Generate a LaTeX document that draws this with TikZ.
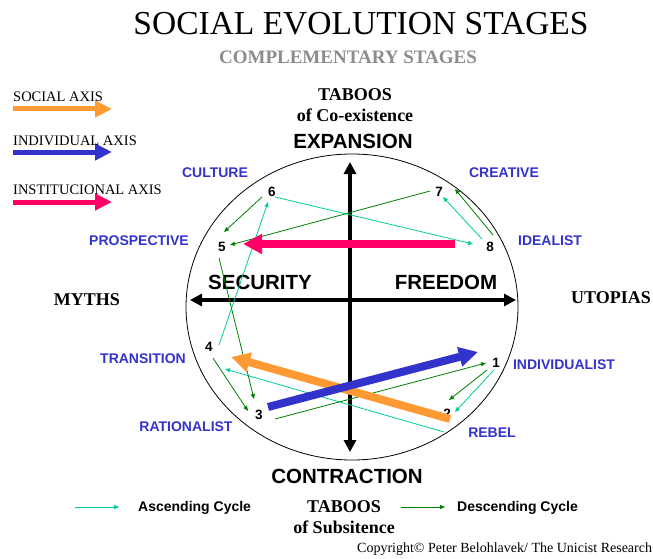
\documentclass[tikz,border=0pt]{standalone}
\usepackage{fontspec}
\setmainfont{Liberation Serif}
\setsansfont{Liberation Sans}
\usetikzlibrary{arrows.meta}

\definecolor{stageblue}{RGB}{51,51,204}
\definecolor{ascend}{RGB}{0,204,153}
\definecolor{descend}{RGB}{0,128,0}
\definecolor{socialorange}{RGB}{255,153,51}
\definecolor{instpink}{RGB}{255,0,102}

\begin{document}
\begin{tikzpicture}[x=1pt,y=-1pt,
  stage/.style={font=\sffamily\bfseries\fontsize{14}{16}\selectfont,text=stageblue,inner sep=0},
  num/.style={font=\sffamily\bfseries\fontsize{13.5}{15}\selectfont,inner sep=0},
  big/.style={font=\sffamily\bfseries\fontsize{20.5}{22}\selectfont,inner sep=0},
  taboo/.style={font=\bfseries\fontsize{18}{21}\selectfont,inner sep=0,align=center},
  legendtext/.style={font=\fontsize{14.5}{16}\selectfont,inner sep=0,anchor=base west},
  asc/.style={ascend,line width=0.8pt,-{Triangle[length=5pt,width=4pt]}},
  desc/.style={descend,line width=0.8pt,-{Triangle[length=5pt,width=4pt]}},
  axisarrow/.style={line width=8pt,-{Triangle[length=19pt,width=19pt]}},
  legendarrow/.style={line width=5pt,-{Triangle[length=17pt,width=16pt]}},
  mainaxis/.style={line width=3.5pt,{Triangle[length=12pt,width=12pt]}-{Triangle[length=12pt,width=12pt]}}
]
\useasboundingbox (0,0) rectangle (653,559);

% Titles
\node[font=\fontsize{33.5}{35}\selectfont,inner sep=0] (title) at (361,24) {SOCIAL EVOLUTION STAGES};
\node[font=\bfseries\fontsize{19}{21}\selectfont,text=black!45,inner sep=0] (subtitle) at (348,57) {COMPLEMENTARY STAGES};

% Legend of the axes
\draw[legendarrow,socialorange] (13,109) -- (112,109);
\draw[legendarrow,stageblue] (13,152) -- (112,152);
\draw[legendarrow,instpink] (13,202) -- (112,202);
\node[legendtext] (lsocial) at (13,102) {SOCIAL AXIS};
\node[legendtext] (lindiv) at (13,146) {INDIVIDUAL AXIS};
\node[legendtext] (linst) at (13,194) {INSTITUCIONAL AXIS};

% Circle and main axes
\draw[line width=0.8pt] (352,307) ellipse (166 and 153);
\coordinate (top) at (350,162);
\coordinate (bottom) at (350,452);
\coordinate (left) at (190,300);
\coordinate (right) at (516,300);
\draw[mainaxis] (top) -- (bottom);
\draw[mainaxis] (left) -- (right);

% Outer labels
\node[taboo] (tabtop) at (355,105) {TABOOS\\of Co-existence};
\node[taboo] (tabbot) at (344,517) {TABOOS\\of Subsitence};
\node[big] (expansion) at (353,141) {EXPANSION};
\node[big] (contraction) at (347,476) {CONTRACTION};
\node[big] (security) at (260,282) {SECURITY};
\node[big] (freedom) at (446,282) {FREEDOM};
\node[font=\bfseries\fontsize{18}{20}\selectfont,inner sep=0] (myths) at (87,300) {MYTHS};
\node[font=\bfseries\fontsize{18}{20}\selectfont,inner sep=0] (utopias) at (611,298) {UTOPIAS};

% Stage names
\node[stage] (culture) at (215,173) {CULTURE};
\node[stage] (creative) at (504,173) {CREATIVE};
\node[stage] (prospective) at (139,241) {PROSPECTIVE};
\node[stage] (idealist) at (550,241) {IDEALIST};
\node[stage] (transition) at (143,359) {TRANSITION};
\node[stage] (individualist) at (564,365) {INDIVIDUALIST};
\node[stage] (rationalist) at (186,427) {RATIONALIST};
\node[stage] (rebel) at (492,433) {REBEL};

% Stage numbers
\node[num] (s1) at (496,363) {1};
\node[num] (s2) at (447,414) {2};
\node[num] (s3) at (259,415) {3};
\node[num] (s4) at (209,347) {4};
\node[num] (s5) at (222,247) {5};
\node[num] (s6) at (272,192) {6};
\node[num] (s7) at (439,192) {7};
\node[num] (s8) at (490,247) {8};

% Ascending cycle
\draw[asc] ([shift={(-2,7)}]s1.center) -- ([shift={(8,-2)}]s2.center);
\draw[asc] ([shift={(-3,18)}]s2.center) -- ([shift={(16,22)}]s4.center);
\draw[asc] ([shift={(10,-2)}]s4.center) -- ([shift={(-4,10)}]s6.center);
\draw[asc] ([shift={(3,5)}]s6.center) -- ([shift={(-17,-3)}]s8.center);
\draw[asc] ([shift={(-8,-8)}]s8.center) -- ([shift={(4,5)}]s7.center);

% Descending cycle
\draw[desc] ([shift={(3,-12)}]s8.center) -- ([shift={(16,-3)}]s7.center);
\draw[desc] ([shift={(-9,-1)}]s7.center) -- ([shift={(8,-2)}]s5.center);
\draw[desc] ([shift={(-10,5)}]s6.center) -- ([shift={(2,-15)}]s5.center);
\draw[desc] ([shift={(-3,11)}]s5.center) -- ([shift={(-5,-16)}]s3.center);
\draw[desc] ([shift={(4,11)}]s4.center) -- ([shift={(-11,-4)}]s3.center);
\draw[desc] ([shift={(16,4)}]s3.center) -- ([shift={(-10,0)}]s1.center);
\draw[desc] ([shift={(-9,7)}]s1.center) -- ([shift={(2,-14)}]s2.center);

% Thick axes of the stages
\coordinate (socialstart) at (450,419);
\coordinate (socialend) at (231,357);
\coordinate (indivstart) at (268,407);
\coordinate (indivend) at (478,352);
\coordinate (inststart) at (455,244);
\coordinate (instend) at (243,244);
\draw[axisarrow,socialorange] (socialstart) -- (socialend);
\draw[axisarrow,stageblue] (indivstart) -- (indivend);
\draw[axisarrow,instpink] (inststart) -- (instend);

% Legend of the cycles
\coordinate (ascA) at (75,507);
\coordinate (ascB) at (119,507);
\coordinate (descA) at (401,507);
\coordinate (descB) at (445,507);
\draw[asc] (ascA) -- (ascB);
\draw[desc] (descA) -- (descB);
\node[font=\sffamily\bfseries\fontsize{14}{16}\selectfont,inner sep=0,anchor=west] (lasc) at (138,508) {Ascending Cycle};
\node[font=\sffamily\bfseries\fontsize{14}{16}\selectfont,inner sep=0,anchor=west] (ldesc) at (457,508) {Descending Cycle};

% Copyright
\node[font=\fontsize{14}{16}\selectfont,inner sep=0,anchor=west] (copy) at (357,549) {Copyright© Peter Belohlavek/ The Unicist Research};
\end{tikzpicture}
\end{document}
